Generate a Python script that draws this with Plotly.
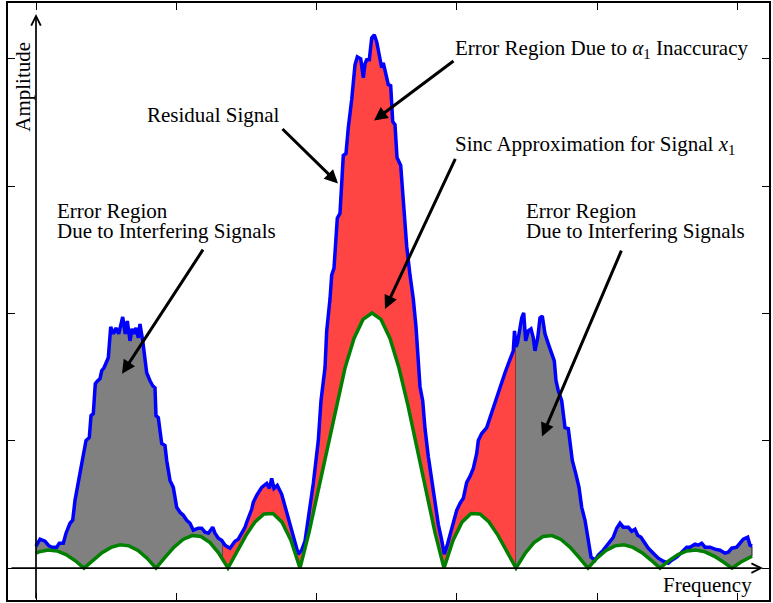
import plotly.graph_objects as go

# Residual signal (blue), frequency units vs amplitude units
blue_x = [0, 4, 9, 12.3, 15.7, 20.7, 23.3, 27.3, 30, 34, 36.7, 39, 42.3, 46.7, 50, 53.3, 55, 57.3, 59.3, 61.7,
          64, 65.7, 68, 72.3, 74.7, 77.3, 80, 82.7, 84, 86.7, 89.3, 91.3, 94, 96, 98, 100, 102.3, 104, 106.7, 109,
          110.7, 114, 116.7, 119, 120, 122.3, 125.7, 129, 130.7, 134, 137.3, 140.7, 144, 147.3, 150.7, 154, 157.3,
          162.3, 165.7, 169, 172.3, 176.7, 179, 182.3, 185.7, 187, 189, 192.3, 194, 199, 202.3, 204, 209, 210.7,
          215.7, 217.3, 220.7, 225.7, 230.7, 233.3, 235.7, 238, 241.3, 245.7, 249, 252.3, 255.7, 259, 262.3, 265.7,
          269, 272.3, 277.3, 282.3, 285, 289, 290.7, 294, 295.7, 298, 300, 301.3, 304, 305.7, 307.3, 310, 312.3,
          315.7, 319, 321.3, 324.7, 327.3, 329, 330.7, 333.3, 335.7, 338.3, 340.7, 343.3, 345.7, 347.3, 350, 352.3,
          354.7, 356.7, 359, 361, 364.7, 367.3, 370.7, 374, 377.3, 380, 381.3, 384, 386.7, 389, 392.3, 395.7, 399,
          402.3, 405.7, 408.3, 411.5, 414, 417.3, 420.7, 424, 427.3, 430.7, 434, 437.3, 440.7, 442.3, 445.7, 450.7,
          454, 457.3, 460.7, 462.3, 465.7, 469, 472.3, 475, 477.3, 478.5, 480, 481.5, 484, 485.7, 487.7, 489.7,
          492.3, 495, 497.3, 499, 501.7, 504, 506.3, 509, 512.3, 515.7, 518.3, 520, 522.3, 525.7, 529, 532.3, 534,
          536.3, 539.7, 543, 545.7, 549, 552.3, 555, 559, 562.3, 567.3, 572.3, 577.3, 580.7, 584, 587.3, 592.3,
          595.7, 599, 601.7, 605, 608.3, 612.3, 617.3, 622.3, 627.3, 632.3, 635.7, 640.7, 645.7, 650.7, 654, 659,
          662.3, 665.7, 669, 674, 679, 684, 689, 692.3, 695.7, 700.7, 704, 707.3, 711.7, 714, 716]
blue_y = [22, 29, 27, 23, 21, 21, 25, 25, 35, 45, 48, 68, 86, 108, 128, 131, 153, 155, 185, 188,
          190, 198, 201, 211, 242, 235, 241, 235, 241, 252, 235, 248, 228, 240, 235, 241, 231, 245, 228, 206,
          196, 188, 183, 181, 153, 151, 125, 123, 108, 88, 81, 61, 56, 53, 48, 45, 38,
          40, 40, 36, 35, 41, 35, 30, 28, 26, 23, 21, 20, 27, 29, 32, 41, 46,
          59, 66, 73, 81, 85, 80, 90, 80, 83, 74, 62, 51, 37, 27, 14, 18,
          27, 50, 85, 128, 168, 201, 238, 270, 294, 301, 330, 351, 356, 382, 414, 416, 442,
          470, 505, 513, 511, 492, 506, 510, 510, 532, 535, 528, 514, 502, 507, 496, 485,
          484, 448, 445, 412, 404, 365, 323, 294, 270, 242, 224, 182, 168, 140, 112, 88, 62,
          44, 28, 14, 24, 34, 48, 58, 65, 70, 86, 92, 100, 115, 128, 135, 141,
          151, 161, 171, 178, 188, 196, 205, 213, 218, 238, 222, 226, 243, 251, 256, 228,
          238, 240, 231, 218, 231, 251, 253, 235, 225, 216, 208, 188, 178, 168, 141, 140, 128,
          108, 95, 81, 61, 48, 28, 11, 8, 13, 18, 25, 31, 40, 45, 41, 41,
          37, 39, 33, 31, 26, 20, 15, 10, 7, 5, 8, 11, 16, 21, 21, 24,
          23, 25, 21, 21, 19, 18, 15, 16, 20, 21, 25, 29, 31, 23, 22]

# Sinc approximation for signal x1 (green)
green_x = [0, 3, 12, 21, 30, 39, 48, 57, 66, 75, 84, 93, 102, 111, 120, 129, 138, 147, 156, 165, 174, 183,
           187, 192, 201, 210, 219, 228, 237, 246, 255, 264, 273, 282, 291, 300, 309, 318, 327, 336, 345, 354,
           363, 372, 381, 390, 399, 408, 417, 426, 435, 444, 453, 462, 471, 480, 489, 498, 507, 516, 525, 534,
           543, 552, 561, 570, 579, 588, 597, 606, 615, 624, 633, 642, 651, 660, 669, 678, 687, 696, 705, 714, 716]
green_y = [15.1, 16.3, 18.1, 17.2, 13.6, 7.6, 0, 8.1, 15.4, 20.8, 23.3, 22.3, 17.7, 10.0, 0, 10.8, 21.0, 28.7,
           32.6, 31.7, 25.6, 14.7, 8.5, 0, 16.6, 32.9, 46.3, 54.3, 54.7, 46.1, 27.7, 0, 35.6, 76.8, 120.4, 163.0,
           200.7, 230.5, 249.5, 256, 249.5, 230.5, 200.7, 163.0, 120.4, 76.8, 35.6, 0, 27.7, 46.1, 54.7, 54.3,
           46.3, 32.9, 16.6, 0, 14.7, 25.6, 31.7, 32.6, 28.7, 21.0, 10.8, 0, 10.0, 17.7, 22.3, 23.3, 20.8, 15.4,
           8.1, 0, 7.6, 13.6, 17.2, 18.1, 16.3, 12.1, 6.4, 0, 6.1, 11.0, 11.9]

# Region boundaries and their fill colours
region_edges = [0, 187, 480, 716]
region_colors = ["#808080", "#ff4444", "#808080"]

x_ticks = [0, 140, 280, 420, 561, 701]
y_ticks = [0, 128, 255, 383, 511]

FONT = "Liberation Serif"
FS = 21
fig = go.Figure()

for i, col in enumerate(region_colors):
    lo, hi = region_edges[i], region_edges[i + 1]
    bx = [x for x in blue_x if lo <= x <= hi]
    by = [y for x, y in zip(blue_x, blue_y) if lo <= x <= hi]
    gx = [x for x in green_x if lo <= x <= hi]
    gy = [y for x, y in zip(green_x, green_y) if lo <= x <= hi]
    fig.add_trace(go.Scatter(x=bx + gx[::-1], y=by + gy[::-1], mode="lines", fill="toself",
                             fillcolor=col, line=dict(color="#222222", width=1), hoverinfo="skip"))

fig.add_trace(go.Scatter(x=blue_x, y=blue_y, mode="lines", line=dict(color="#0000ff", width=3.5)))
fig.add_trace(go.Scatter(x=green_x, y=green_y, mode="lines", line=dict(color="#008000", width=3.5)))

# axis arrows
ax_style = dict(xref="x", yref="y", axref="x", ayref="y", text="", showarrow=True,
                arrowhead=5, arrowsize=1.1, arrowwidth=1.7, arrowcolor="black")
fig.add_annotation(x=727, y=0, ax=-26, ay=0, **ax_style)
fig.add_annotation(x=0, y=556, ax=0, ay=-32, **ax_style)

# pointer arrows
arr = dict(xref="x", yref="y", axref="x", ayref="y", text="", showarrow=True,
           arrowhead=2, arrowsize=0.9, arrowwidth=3, arrowcolor="black")
fig.add_annotation(x=338, y=449, ax=419, ay=510, **arr)
fig.add_annotation(x=302, y=386, ax=245, ay=442, **arr)
fig.add_annotation(x=349, y=260, ax=420, ay=412, **arr)
fig.add_annotation(x=86, y=195, ax=168, ay=321, **arr)
fig.add_annotation(x=506, y=132, ax=586, ay=320, **arr)

txt = dict(xref="x", yref="y", showarrow=False, xanchor="left", yanchor="middle",
           font=dict(family=FONT, size=FS, color="black"))
fig.add_annotation(x=417, y=521, text="Error Region Due to <i>α</i><sub>1</sub> Inaccuracy", **txt)
fig.add_annotation(x=109, y=455, text="Residual Signal", **txt)
fig.add_annotation(x=417, y=425, text="Sinc Approximation for Signal <i>x</i><sub>1</sub>", **txt)
fig.add_annotation(x=19, y=358, text="Error Region", **txt)
fig.add_annotation(x=19, y=338, text="Due to Interfering Signals", **txt)
fig.add_annotation(x=488, y=358, text="Error Region", **txt)
fig.add_annotation(x=488, y=338, text="Due to Interfering Signals", **txt)
fig.add_annotation(x=718, y=-17, text="Frequency", xref="x", yref="y", showarrow=False,
                   xanchor="right", yanchor="middle", font=dict(family=FONT, size=FS, color="black"))
fig.add_annotation(x=-13, y=483, text="Amplitude", xref="x", yref="y", showarrow=False, textangle=-90,
                   xanchor="center", yanchor="middle", font=dict(family=FONT, size=FS, color="black"))

axis_common = dict(showline=True, linecolor="black", linewidth=2, mirror="ticks", ticks="inside",
                   ticklen=7, tickwidth=1, tickcolor="black", showticklabels=False,
                   showgrid=False, zeroline=False)
fig.update_xaxes(range=[-28, 733], tickvals=x_ticks, **axis_common)
fig.update_yaxes(range=[-32, 567], tickvals=y_ticks, **axis_common)

fig.update_layout(width=773, height=603, margin=dict(l=8, r=4, t=1, b=3, pad=0),
                  plot_bgcolor="white", paper_bgcolor="white", showlegend=False)

fig.write_html("out.html")
